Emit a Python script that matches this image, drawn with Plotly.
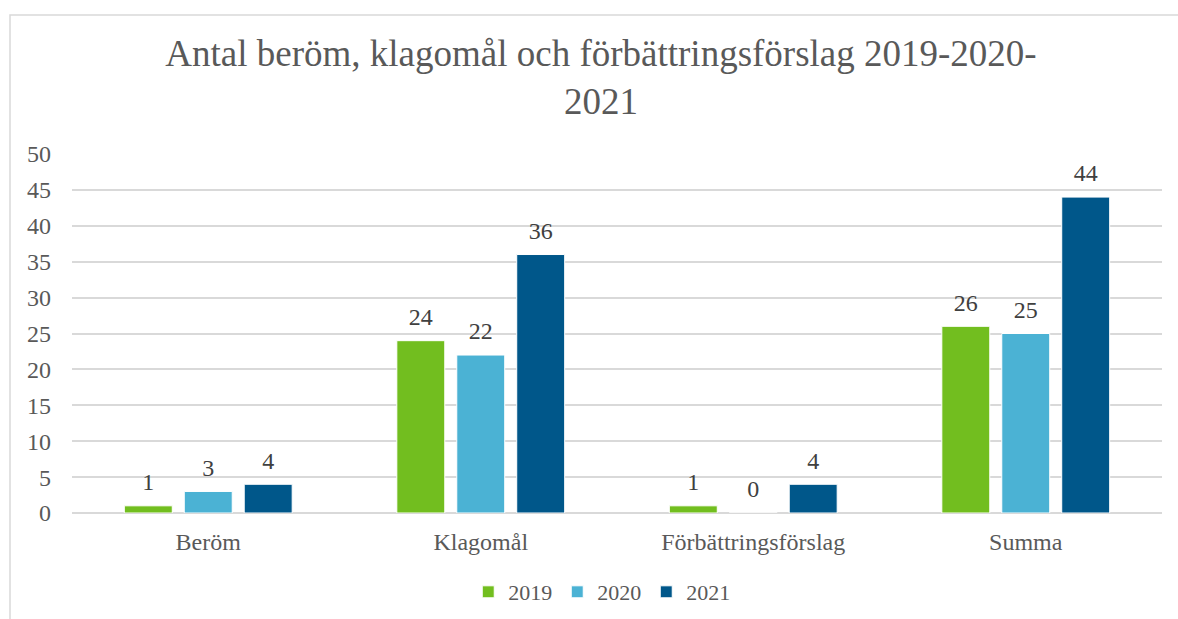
import plotly.graph_objects as go

categories = ["Beröm", "Klagomål", "Förbättringsförslag", "Summa"]
years = ["2019", "2020", "2021"]
values_2019 = [1, 24, 1, 26]
values_2020 = [3, 22, 0, 25]
values_2021 = [4, 36, 4, 44]
colors = ["#72BE1F", "#4BB2D4", "#00578A"]

series = [values_2019, values_2020, values_2021]
FONT = "Liberation Serif, Times New Roman, serif"
BARGAP = 0.34

fig = go.Figure()
for name, vals, col in zip(years, series, colors):
    fig.add_trace(go.Bar(
        x=categories, y=vals, name=name,
        marker=dict(color=col, line=dict(color="white", width=1)),
        hoverinfo="x+y+name",
    ))
# value labels, positioned with the same grouping as the bars
for name, vals in zip(years, series):
    fig.add_trace(go.Scatter(
        x=categories, y=vals, name=name, showlegend=False,
        mode="markers+text", text=[str(v) for v in vals],
        textposition="top center",
        textfont=dict(family=FONT, size=24, color="#404040"),
        marker=dict(size=14, color="rgba(0,0,0,0)"),
        hoverinfo="skip", cliponaxis=False,
    ))

W, H = 1178, 619
L, R, T, B = 72, 16, 154, 106
pw, ph = W - L - R, H - T - B

fig.update_layout(
    width=W, height=H,
    margin=dict(l=L, r=R, t=T, b=B, autoexpand=False),
    paper_bgcolor="white", plot_bgcolor="white",
    barmode="group", bargap=BARGAP, bargroupgap=0.2,
    scattermode="group", scattergap=BARGAP,
    font=dict(family=FONT, color="#595959", size=24),
    title=dict(
        text="Antal beröm, klagomål och förbättringsförslag 2019-2020-<br>2021",
        x=601 / W, xanchor="center",
        y=1 - 66 / H, yanchor="middle",
        font=dict(family=FONT, size=37, color="#595959"),
    ),
    xaxis=dict(showgrid=False, showline=False, ticks="",
               tickfont=dict(family=FONT, size=24, color="#595959"),
               ticklabelstandoff=12),
    yaxis=dict(range=[0, 50], dtick=5, showgrid=True, gridcolor="#D9D9D9",
               gridwidth=1.5, zeroline=True, zerolinecolor="#D9D9D9",
               zerolinewidth=1.5, showline=False, ticks="",
               tickfont=dict(family=FONT, size=24, color="#595959"),
               ticklabelstandoff=20),
    legend=dict(orientation="h", x=0.486, xanchor="center",
                yref="container", y=1 - 592 / H, yanchor="middle",
                font=dict(family=FONT, size=22, color="#595959"),
                itemwidth=30, traceorder="normal"),
    shapes=[dict(type="rect", xref="paper", yref="paper",
                 x0=(10 - L) / pw, x1=(W + 20 - L) / pw,
                 y0=-(H + 20 - (T + ph)) / ph, y1=(T + ph - 15) / ph,
                 line=dict(color="#D9D9D9", width=1.5), layer="below")],
)

fig.write_html("out.html")
